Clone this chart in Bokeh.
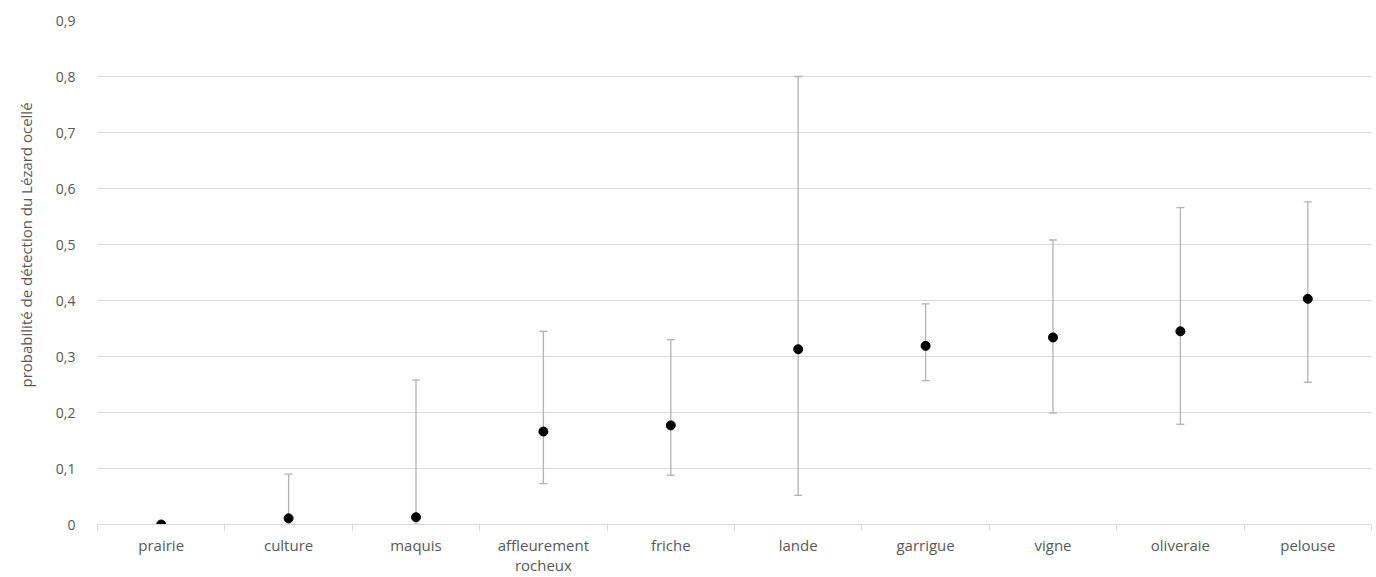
import numpy as np
from bokeh.plotting import figure
from bokeh.models import (ColumnDataSource, Whisker, TeeHead, FixedTicker,
                          CustomJSTickFormatter, Range1d, Title)
from bokeh.embed import file_html
from bokeh.resources import INLINE

categories = ["prairie", "culture", "maquis", "affleurement\nrocheux", "friche",
              "lande", "garrigue", "vigne", "oliveraie", "pelouse"]
probability = [0.0, 0.011, 0.013, 0.166, 0.177, 0.313, 0.319, 0.334, 0.345, 0.403]
lower = [0.0, 0.0, 0.0, 0.073, 0.088, 0.052, 0.257, 0.199, 0.179, 0.254]
upper = [0.0, 0.090, 0.258, 0.345, 0.330, 0.800, 0.394, 0.508, 0.566, 0.576]
y_ticks = [0.0, 0.1, 0.2, 0.3, 0.4, 0.5, 0.6, 0.7, 0.8, 0.9]
y_title = "probabilité de détection du Lézard ocellé"

n = len(categories)
x_centers = list(np.arange(n) + 0.5)
boundaries = list(np.arange(n + 1).astype(float))

src = ColumnDataSource(dict(x=x_centers, y=probability, lower=lower, upper=upper))

FONT = "Open Sans"
TXT = "#595959"
GRID = "#d9d9d9"
BAR = "#b3b3b3"

p = figure(width=1376, height=577, output_backend="svg", toolbar_location=None,
           x_range=Range1d(0, n), y_range=Range1d(0, y_ticks[-1]),
           min_border_left=96, min_border_right=5, min_border_top=20,
           min_border_bottom=53)
p.outline_line_color = None
p.background_fill_color = "white"
p.border_fill_color = "white"

# y axis
p.yaxis.ticker = FixedTicker(ticks=y_ticks)
p.yaxis.formatter = CustomJSTickFormatter(code="""
    if (Math.abs(tick) < 1e-9) return '0';
    return tick.toFixed(1).replace('.', ',');
""")
p.yaxis.axis_line_color = None
p.yaxis.major_tick_line_color = None
p.yaxis.minor_tick_line_color = None
p.yaxis.major_label_standoff = 16
p.yaxis.major_label_text_font = FONT
p.yaxis.major_label_text_font_size = "14px"
p.yaxis.major_label_text_color = TXT
p.ygrid.ticker = FixedTicker(ticks=y_ticks)
p.ygrid.grid_line_color = GRID
p.ygrid.grid_line_width = 1
p.xgrid.grid_line_color = None

# x axis
p.xaxis.ticker = FixedTicker(ticks=x_centers, minor_ticks=boundaries)
p.xaxis.formatter = CustomJSTickFormatter(args=dict(names=categories), code="""
    return names[Math.round(tick - 0.5)];
""")
p.xaxis.axis_line_color = GRID
p.xaxis.major_tick_line_color = None
p.xaxis.minor_tick_line_color = GRID
p.xaxis.minor_tick_in = 0
p.xaxis.minor_tick_out = 6
p.xaxis.major_label_standoff = 4
p.xaxis.major_label_text_font = FONT
p.xaxis.major_label_text_font_size = "15px"
p.xaxis.major_label_text_color = TXT
p.xaxis.major_label_text_line_height = 1.0

# error bars
head_kw = dict(size=8, line_color=BAR, line_width=1.3)
w = Whisker(base="x", lower="lower", upper="upper", source=src,
            line_color=BAR, line_width=1.3,
            upper_head=TeeHead(**head_kw), lower_head=TeeHead(**head_kw))
p.add_layout(w)

# points
p.scatter("x", "y", source=src, size=9, color="black")

# y axis title
p.add_layout(Title(text=y_title, align="left", offset=137, standoff=30,
                   vertical_align="top",
                   text_font=FONT, text_font_size="15px",
                   text_font_style="normal", text_color=TXT), "left")

open("out.html", "w").write(file_html(p, INLINE))
